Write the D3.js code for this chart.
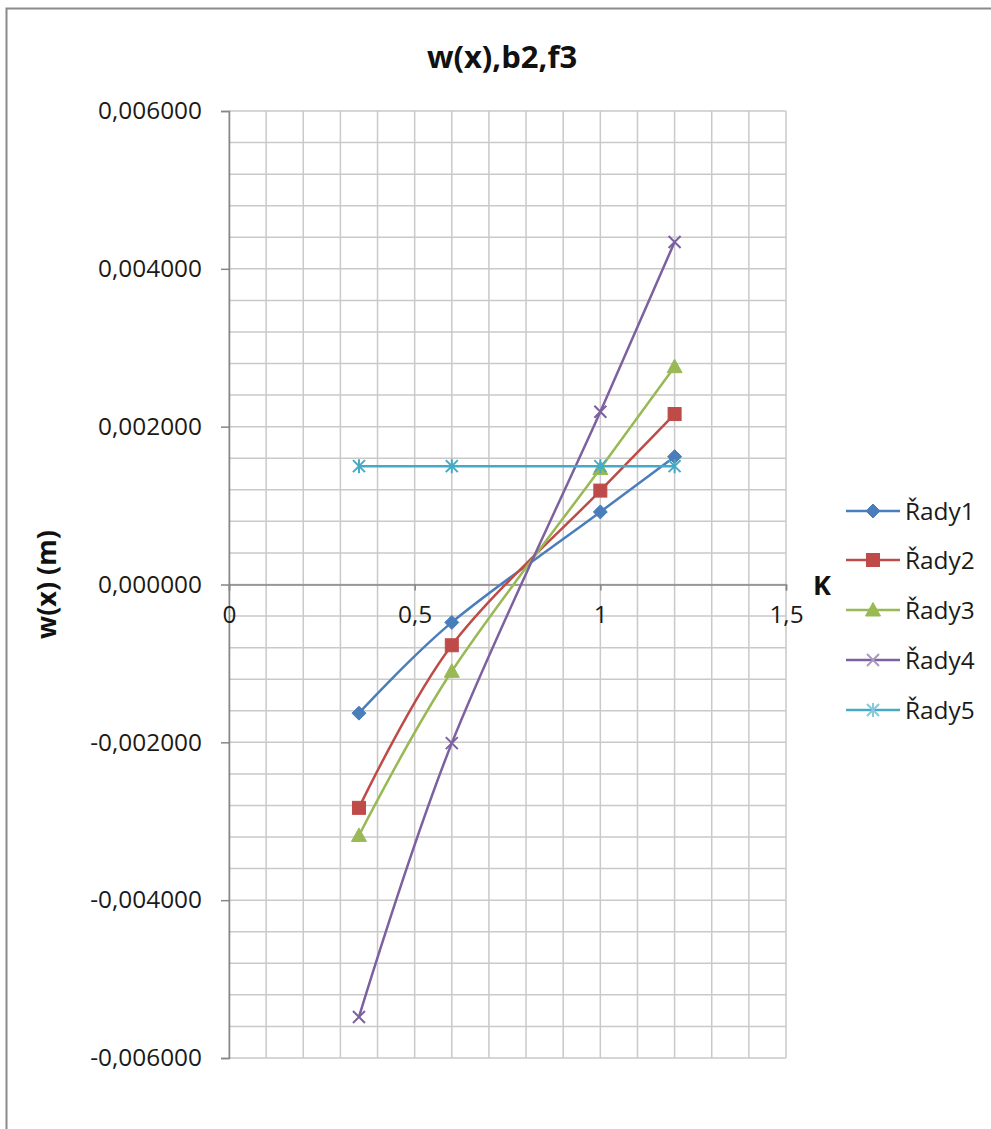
<!DOCTYPE html>
<html>
<head>
<meta charset="utf-8">
<script src="https://cdn.jsdelivr.net/npm/d3@7"></script>
<style>
  html, body { margin: 0; padding: 0; background: #fff; }
  svg { display: block; }
</style>
</head>
<body>
<svg id="chart" width="991" height="1129"></svg>
<script>
// K values shared by all series
const kValues = [0.35, 0.6, 1, 1.2];

// Deflection w(x) in metres for each series
const rady1 = [-0.00163, -0.00048, 0.00092, 0.00162];
const rady2 = [-0.00283, -0.00077, 0.00119, 0.00216];
const rady3 = [-0.00318, -0.00110, 0.00147, 0.00276];
const rady4 = [-0.00548, -0.00201, 0.00219, 0.00434];
const rady5 = [0.0015, 0.0015, 0.0015, 0.0015];

const seriesNames = ["Řady1", "Řady2", "Řady3", "Řady4", "Řady5"];
const seriesValues = [rady1, rady2, rady3, rady4, rady5];
const seriesColors = ["#4A7EBB", "#BE4B48", "#98B954", "#7D60A0", "#46AAC5"];
const seriesMarkers = ["diamond", "square", "triangle", "cross", "star"];

const xTicks = [0, 0.5, 1, 1.5];
const xTickLabels = ["0", "0,5", "1", "1,5"];
const yTicks = [-0.006, -0.004, -0.002, 0, 0.002, 0.004, 0.006];
const yTickLabels = ["-0,006000", "-0,004000", "-0,002000", "0,000000", "0,002000", "0,004000", "0,006000"];

const titleText = "w(x),b2,f3";
const yTitleText = "w(x) (m)";
const xTitleText = "K";

const FONT = "'Open Sans', 'Liberation Sans', sans-serif";

const svg = d3.select("#chart");

// chart frame
svg.append("rect")
  .attr("x", 6.5).attr("y", 8.5)
  .attr("width", 1100).attr("height", 1200)
  .attr("fill", "#fff")
  .attr("stroke", "#8a8a8a").attr("stroke-width", 2);

const plot = { left: 229, right: 786, top: 111, bottom: 1058 };

const x = d3.scaleLinear().domain([0, 1.5]).range([plot.left, plot.right]);
const y = d3.scaleLinear().domain([-0.006, 0.006]).range([plot.bottom, plot.top]);

// grid
const grid = svg.append("g");
const vGrid = d3.range(0, 16).map(i => i / 10);
const hGrid = d3.range(0, 31).map(i => -0.006 + i * 0.0004);
grid.selectAll("line.v").data(vGrid).join("line")
  .attr("x1", d => x(d)).attr("x2", d => x(d))
  .attr("y1", plot.top).attr("y2", plot.bottom)
  .attr("stroke", "#c9c9c9").attr("stroke-width", 1.5);
grid.selectAll("line.h").data(hGrid).join("line")
  .attr("x1", plot.left).attr("x2", plot.right)
  .attr("y1", d => y(d)).attr("y2", d => y(d))
  .attr("stroke", "#c9c9c9").attr("stroke-width", 1.5);

// y axis (at K = 0)
const yAxis = d3.axisLeft(y).tickValues(yTicks)
  .tickFormat((d, i) => yTickLabels[i]).tickSize(8).tickPadding(19);
const gy = svg.append("g").attr("transform", `translate(${x(0)},0)`).call(yAxis);
gy.select(".domain").attr("stroke", "#868686").attr("stroke-width", 1.5);
gy.selectAll(".tick line").attr("stroke", "#868686").attr("stroke-width", 1.5);
gy.selectAll(".tick text").attr("font-family", FONT).attr("font-size", 24.4).attr("fill", "#1a1a1a");

// x axis (at w = 0)
const xAxis = d3.axisBottom(x).tickValues(xTicks)
  .tickFormat((d, i) => xTickLabels[i]).tickSize(6).tickPadding(15);
const gx = svg.append("g").attr("transform", `translate(0,${y(0)})`).call(xAxis);
gx.select(".domain").attr("stroke", "#868686").attr("stroke-width", 1.5);
gx.selectAll(".tick line").attr("stroke", "#868686").attr("stroke-width", 1.5);
gx.selectAll(".tick text").attr("font-family", FONT).attr("font-size", 24.4).attr("fill", "#1a1a1a");

// titles
svg.append("text").attr("x", 502).attr("y", 68)
  .attr("text-anchor", "middle").attr("font-family", FONT)
  .attr("font-weight", "bold").attr("font-size", 31).attr("fill", "#111")
  .text(titleText);
svg.append("text")
  .attr("transform", `translate(56,${y(0)}) rotate(-90)`)
  .attr("text-anchor", "middle").attr("font-family", FONT)
  .attr("font-weight", "bold").attr("font-size", 27).attr("fill", "#111")
  .text(yTitleText);
svg.append("text").attr("x", 822).attr("y", y(0) + 10)
  .attr("text-anchor", "middle").attr("font-family", FONT)
  .attr("font-weight", "bold").attr("font-size", 27).attr("fill", "#111")
  .text(xTitleText);

// marker drawing
function drawMarker(g, type, cx, cy, color) {
  if (type === "diamond") {
    const r = 7;
    g.append("path").attr("d", `M${cx},${cy - r}L${cx + r},${cy}L${cx},${cy + r}L${cx - r},${cy}Z`)
      .attr("fill", color).attr("stroke", color).attr("stroke-width", 1);
  } else if (type === "square") {
    const s = 13;
    g.append("rect").attr("x", cx - s / 2).attr("y", cy - s / 2)
      .attr("width", s).attr("height", s)
      .attr("fill", color).attr("stroke", color).attr("stroke-width", 1);
  } else if (type === "triangle") {
    const r = 7.5;
    g.append("path").attr("d", `M${cx},${cy - r}L${cx + r},${cy + r * 0.8}L${cx - r},${cy + r * 0.8}Z`)
      .attr("fill", color).attr("stroke", color).attr("stroke-width", 1);
  } else if (type === "cross") {
    const r = 6;
    g.append("path").attr("d", `M${cx - r},${cy - r}L${cx + r},${cy + r}M${cx - r},${cy + r}L${cx + r},${cy - r}`)
      .attr("stroke", color).attr("stroke-width", 2).attr("fill", "none");
  } else if (type === "star") {
    const r = 6;
    g.append("path").attr("d",
      `M${cx - r},${cy - r}L${cx + r},${cy + r}M${cx - r},${cy + r}L${cx + r},${cy - r}M${cx},${cy - r - 1}L${cx},${cy + r + 1}`)
      .attr("stroke", color).attr("stroke-width", 2).attr("fill", "none");
  }
}

// series lines and markers
const line = d3.line().x(d => x(d[0])).y(d => y(d[1])).curve(d3.curveCardinal.tension(0));
seriesValues.forEach((vals, i) => {
  const pts = kValues.map((k, j) => [k, vals[j]]);
  const g = svg.append("g");
  g.append("path").datum(pts).attr("d", line)
    .attr("fill", "none").attr("stroke", seriesColors[i]).attr("stroke-width", 2.5);
  pts.forEach(p => drawMarker(g, seriesMarkers[i], x(p[0]), y(p[1]), seriesColors[i]));
});

// legend
const legendY = [511, 560, 610, 660, 710];
seriesNames.forEach((name, i) => {
  const g = svg.append("g");
  const ly = legendY[i];
  g.append("line").attr("x1", 846).attr("x2", 900).attr("y1", ly).attr("y2", ly)
    .attr("stroke", seriesColors[i]).attr("stroke-width", 2.5);
  const mColor = i >= 3 ? d3.interpolateRgb(seriesColors[i], "#fff")(0.35) : seriesColors[i];
  drawMarker(g, seriesMarkers[i], 873, ly, mColor);
  g.append("text").attr("x", 905).attr("y", ly).attr("dy", "0.35em")
    .attr("font-family", FONT).attr("font-size", 24.4).attr("fill", "#1a1a1a")
    .text(name);
});
</script>
</body>
</html>
